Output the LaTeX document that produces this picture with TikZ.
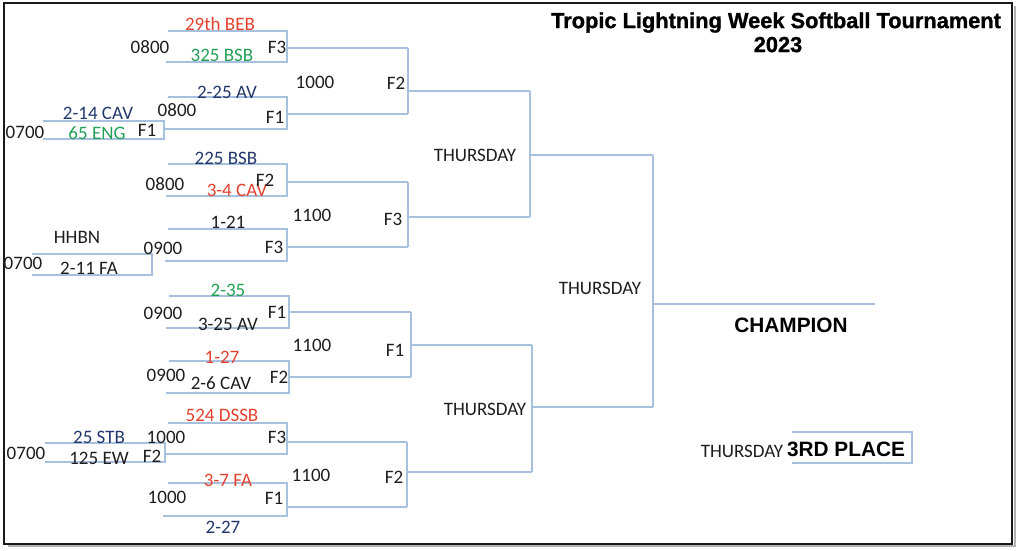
\documentclass[tikz,border=0pt]{standalone}
\usepackage{fontspec}
\setmainfont{Carlito}
\newfontfamily\boldsans{Liberation Sans}
\newfontfamily\heavysans[FakeBold=1.2]{Liberation Sans}
\definecolor{bl}{HTML}{A7C0DE}
\definecolor{rd}{HTML}{E5412F}
\definecolor{gr}{HTML}{22A055}
\definecolor{db}{HTML}{22386C}
\definecolor{tx}{HTML}{1E1E1E}
\tikzset{
  line/.style={draw=bl, line width=1.1pt},
  lbl/.style={inner sep=0pt, yshift=-3pt, text height=0.63em, text depth=0pt, text=tx, font=\fontsize{19}{20}\selectfont},
  red/.style={lbl, text=rd},
  grn/.style={lbl, text=gr},
  dbl/.style={lbl, text=db},
  big/.style={inner sep=0pt, yshift=-3.5pt, text height=0.72em, text depth=0pt, text=black, font=\boldsans\bfseries\fontsize{20.8}{22}\selectfont},
  ttl/.style={big, font=\heavysans\bfseries\fontsize{21.8}{23}\selectfont},
}
\begin{document}
\begin{tikzpicture}[x=1pt,y=-1pt]
\useasboundingbox (0,0) rectangle (1017,551);
\fill[white] (0,0) rectangle (1017,551);
% frame with shadow
\draw[gray!60, line width=2pt] (8,546) -- (1015,546) -- (1015,6);
\draw[black!90, line width=1.8pt] (4,3) rectangle (1012,544);

% ---- bracket lines ----
% top half
\draw[line] (168,31) -- (287,31) -- (287,62) -- (166,62);
\draw[line] (287,48) -- (408,48);
\draw[line] (168,97) -- (287,97) -- (287,129) -- (163,129);
\draw[line] (287,114) -- (408,114);
\draw[line] (408,48) -- (408,114);
\draw[line] (43,121) -- (164,121) -- (164,139) -- (43,139);
\draw[line] (408,91) -- (530,91);
\draw[line] (168,164) -- (287,164) -- (287,196) -- (166,196);
\draw[line] (287,182) -- (408,182);
\draw[line] (168,229) -- (287,229) -- (287,261) -- (165,261);
\draw[line] (287,247) -- (408,247);
\draw[line] (408,182) -- (408,247);
\draw[line] (408,217) -- (530,217);
\draw[line] (32,254) -- (152,254) -- (152,275) -- (32,275);
\draw[line] (530,91) -- (530,217);
\draw[line] (530,155) -- (653,155);
% bottom half
\draw[line] (169,296) -- (289,296) -- (289,328) -- (166,328);
\draw[line] (289,312) -- (411,312);
\draw[line] (169,361) -- (289,361) -- (289,393) -- (166,393);
\draw[line] (289,377) -- (411,377);
\draw[line] (411,312) -- (411,377);
\draw[line] (411,345) -- (532,345);
\draw[line] (168,423) -- (287,423) -- (287,454) -- (165,454);
\draw[line] (287,442) -- (407,442);
\draw[line] (45,443) -- (165,443) -- (165,462) -- (45,462);
\draw[line] (168,483) -- (287,483) -- (287,516) -- (163,516);
\draw[line] (287,507) -- (407,507);
\draw[line] (407,442) -- (407,507);
\draw[line] (407,472) -- (532,472);
\draw[line] (532,345) -- (532,472);
\draw[line] (532,407) -- (653,407);
% final
\draw[line] (653,155) -- (653,407);
\draw[line] (653,304) -- (875,304);
\draw[line] (792,432) -- (912,432) -- (912,463) -- (792,463);

% ---- titles ----
\node[ttl] (title) at (776,21) {Tropic Lightning Week Softball Tournament};
\node[ttl] (year) at (778,45) {2023};
\node[big] (champ) at (791,325) {CHAMPION};
\node[big] (third) at (846,449) {3RD PLACE};

% ---- team labels ----
\node[red] (t1) at (220,24) {29th BEB};
\node[grn] (t2) at (222,55) {325 BSB};
\node[dbl] (t3) at (227,92) {2-25 AV};
\node[dbl] (t4) at (98,113) {2-14 CAV};
\node[grn] (t5) at (97,133) {65 ENG};
\node[dbl] (t6) at (226,158) {225 BSB};
\node[red] (t7) at (237,190) {3-4 CAV};
\node[lbl] (t8) at (228,222) {1-21};
\node[lbl] (t9) at (77,237) {HHBN};
\node[lbl] (t10) at (89,268) {2-11 FA};
\node[grn] (t11) at (228,290) {2-35};
\node[lbl] (t12) at (228,324) {3-25 AV};
\node[red] (t13) at (222,357) {1-27};
\node[lbl] (t14) at (221,383) {2-6 CAV};
\node[red] (t15) at (222,415) {524 DSSB};
\node[dbl] (t16) at (99,437) {25 STB};
\node[lbl] (t17) at (99,458) {125 EW};
\node[red] (t18) at (228,480) {3-7 FA};
\node[dbl] (t19) at (223,527) {2-27};

% ---- times ----
\node[lbl] (m1) at (150,47) {0800};
\node[lbl] (m2) at (315,82) {1000};
\node[lbl] (m3) at (177,110) {0800};
\node[lbl] (m4) at (25,132) {0700};
\node[lbl] (m5) at (165,184) {0800};
\node[lbl] (m6) at (312,215) {1100};
\node[lbl] (m7) at (163,248) {0900};
\node[lbl] (m8) at (23,263) {0700};
\node[lbl] (m9) at (163,313) {0900};
\node[lbl] (m10) at (312,345) {1100};
\node[lbl] (m11) at (166,375) {0900};
\node[lbl] (m12) at (166,437) {1000};
\node[lbl] (m13) at (26,453) {0700};
\node[lbl] (m14) at (311,475) {1100};
\node[lbl] (m15) at (167,497) {1000};

% ---- fields ----
\node[lbl] (f1) at (277,47) {F3};
\node[lbl] (f2) at (396,83) {F2};
\node[lbl] (f3) at (275,117) {F1};
\node[lbl] (f4) at (147,130) {F1};
\node[lbl] (f5) at (265,180) {F2};
\node[lbl] (f6) at (393,219) {F3};
\node[lbl] (f7) at (274,247) {F3};
\node[lbl] (f8) at (277,312) {F1};
\node[lbl] (f9) at (395,350) {F1};
\node[lbl] (f10) at (279,377) {F2};
\node[lbl] (f11) at (277,437) {F3};
\node[lbl] (f12) at (152,456) {F2};
\node[lbl] (f13) at (394,477) {F2};
\node[lbl] (f14) at (274,498) {F1};

% ---- days ----
\node[lbl] (d1) at (475,155) {THURSDAY};
\node[lbl] (d2) at (600,288) {THURSDAY};
\node[lbl] (d3) at (485,409) {THURSDAY};
\node[lbl] (d4) at (742,451) {THURSDAY};
\end{tikzpicture}
\end{document}
